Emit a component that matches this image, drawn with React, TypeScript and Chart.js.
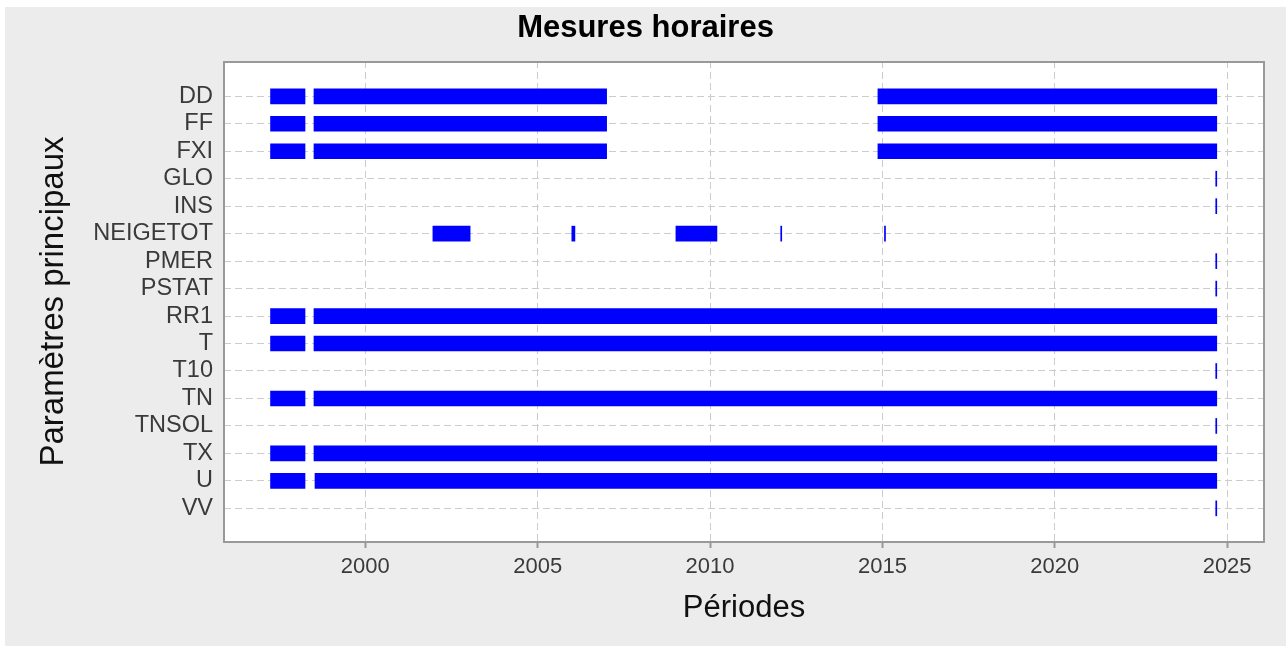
import React, { useEffect, useRef } from 'react';
import { Chart, registerables } from 'chart.js';

Chart.register(...registerables);

// ---- Data ----
const parameters = ['DD', 'FF', 'FXI', 'GLO', 'INS', 'NEIGETOT', 'PMER', 'PSTAT', 'RR1', 'T', 'T10', 'TN', 'TNSOL', 'TX', 'U', 'VV'];

const DD = [[1997.25, 1998.25], [1998.51, 2007.0], [2014.87, 2024.7]];
const FF = [[1997.25, 1998.25], [1998.51, 2007.0], [2014.87, 2024.7]];
const FXI = [[1997.25, 1998.25], [1998.51, 2007.0], [2014.87, 2024.7]];
const GLO = [[2024.67, 2024.7]];
const INS = [[2024.67, 2024.7]];
const NEIGETOT = [[2001.96, 2003.04], [2005.99, 2006.08], [2009.01, 2010.2], [2012.05, 2012.08], [2015.06, 2015.09]];
const PMER = [[2024.67, 2024.7]];
const PSTAT = [[2024.67, 2024.7]];
const RR1 = [[1997.25, 1998.25], [1998.51, 2024.7]];
const T = [[1997.25, 1998.25], [1998.51, 2024.7]];
const T10 = [[2024.67, 2024.7]];
const TN = [[1997.25, 1998.25], [1998.51, 2024.7]];
const TNSOL = [[2024.67, 2024.7]];
const TX = [[1997.25, 1998.25], [1998.51, 2024.7]];
const U = [[1997.25, 1998.25], [1998.54, 2024.7]];
const VV = [[2024.67, 2024.7]];

const periods = [DD, FF, FXI, GLO, INS, NEIGETOT, PMER, PSTAT, RR1, T, T10, TN, TNSOL, TX, U, VV];

const yearTicks = [2000, 2005, 2010, 2015, 2020, 2025];
const xMin = 1995.9;
const xMax = 2026.07;
const yMin = -1.285;
const yMax = 16.225;

const titleText = 'Mesures horaires';
const xTitle = 'Périodes';
const yTitle = 'Paramètres principaux';

const FONT = "'Liberation Sans', Arial, sans-serif";

export default function App() {
  const canvasRef = useRef<HTMLCanvasElement | null>(null);

  useEffect(() => {
    const canvas = canvasRef.current;
    if (!canvas) return;

    const data = parameters.flatMap((p, i) =>
      periods[i].map(([s, e]) => ({ x: [s, e], y: i }))
    );

    const framePlugin = {
      id: 'frame',
      beforeDraw(chart: any) {
        const { ctx, chartArea } = chart;
        ctx.save();
        ctx.fillStyle = '#ffffff';
        ctx.fillRect(chartArea.left, chartArea.top, chartArea.right - chartArea.left, chartArea.bottom - chartArea.top);
        ctx.restore();
      },
      afterDraw(chart: any) {
        const { ctx, chartArea } = chart;
        ctx.save();
        ctx.strokeStyle = '#999999';
        ctx.lineWidth = 2;
        ctx.strokeRect(chartArea.left, chartArea.top + 1, chartArea.right - chartArea.left, chartArea.bottom - chartArea.top - 1);
        ctx.fillStyle = '#000000';
        ctx.font = `bold 31px ${FONT}`;
        ctx.textAlign = 'center';
        ctx.textBaseline = 'alphabetic';
        ctx.fillText(titleText, chart.width / 2, 30);
        ctx.restore();
      },
    };

    const chart = new Chart(canvas, {
      type: 'bar',
      data: {
        datasets: [
          {
            data: data as any,
            backgroundColor: '#0000ff',
            borderWidth: 0,
            barThickness: 15,
            grouped: false,
          } as any,
        ],
      },
      options: {
        indexAxis: 'y',
        animation: false,
        responsive: false,
        maintainAspectRatio: false,
        layout: { padding: { top: 54, right: 22, bottom: 0, left: 0 } },
        plugins: {
          legend: { display: false },
          tooltip: { enabled: false },
          title: { display: false },
        },
        scales: {
          x: {
            type: 'linear',
            position: 'bottom',
            min: xMin,
            max: xMax,
            offset: false,
            afterBuildTicks: (scale: any) => {
              scale.ticks = yearTicks.map((v) => ({ value: v }));
            },
            afterFit: (scale: any) => {
              scale.height = 104;
            },
            ticks: {
              color: '#3a3a3a',
              font: { family: FONT, size: 22 },
              padding: 6,
              maxRotation: 0,
              autoSkip: false,
              callback: (v: any) => String(v),
            },
            grid: {
              color: '#cccccc',
              lineWidth: 1,
              offset: false,
              drawTicks: true,
              tickLength: 6,
              tickColor: '#999999',
              tickWidth: 2,
            },
            border: { display: false, dash: [7, 4] },
            title: {
              display: true,
              text: xTitle,
              color: '#111111',
              font: { family: FONT, size: 31 },
              padding: { top: 0, bottom: 19 },
            },
          },
          y: {
            type: 'linear',
            reverse: true,
            min: yMin,
            max: yMax,
            offset: false,
            afterBuildTicks: (scale: any) => {
              scale.ticks = parameters.map((_, i) => ({ value: i }));
            },
            afterFit: (scale: any) => {
              scale.width = 219;
            },
            ticks: {
              color: '#3a3a3a',
              font: { family: FONT, size: 23.5 },
              padding: 11,
              autoSkip: false,
              callback: (v: any) => parameters[Math.round(Number(v))] ?? '',
            },
            grid: {
              color: '#cccccc',
              lineWidth: 1,
              offset: false,
              drawTicks: false,
            },
            border: { display: false, dash: [7, 4] },
            title: {
              display: true,
              text: yTitle,
              color: '#111111',
              font: { family: FONT, size: 33 },
              padding: { top: 29, bottom: 0 },
            },
          },
        },
      },
      plugins: [framePlugin],
    });

    return () => chart.destroy();
  }, []);

  return (
    <div
      style={{
        position: 'absolute',
        left: 5,
        top: 7,
        width: 1281,
        height: 639,
        background: '#ececec',
      }}
    >
      <canvas ref={canvasRef} width={1281} height={639} style={{ display: 'block' }} />
    </div>
  );
}
